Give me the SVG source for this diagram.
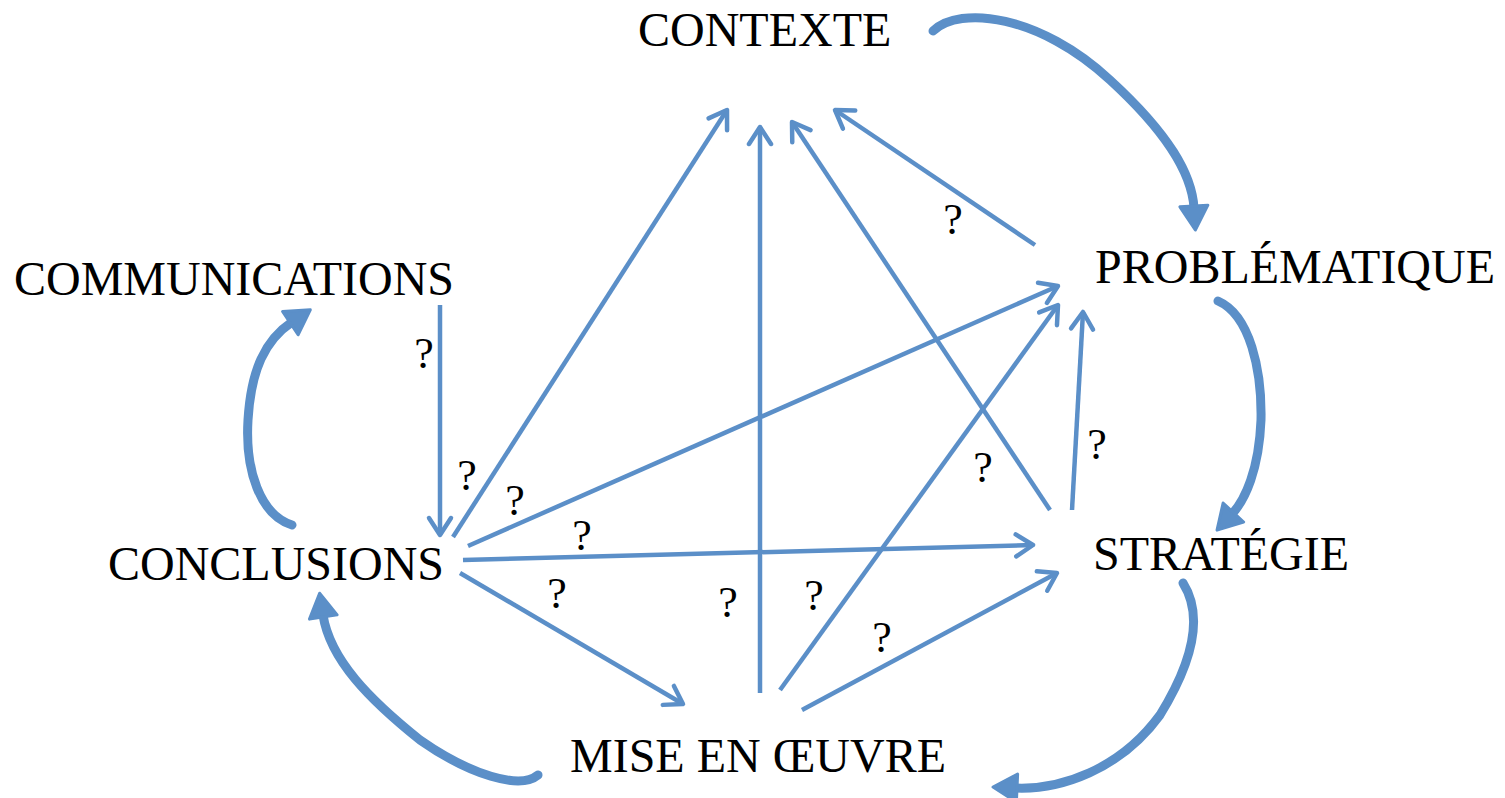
<svg xmlns="http://www.w3.org/2000/svg" width="1505" height="798" viewBox="0 0 1505 798">
<style>
.lbl{font-family:"Liberation Serif","Times New Roman",serif;font-size:48px;fill:#000}
.q{font-family:"Liberation Serif","Times New Roman",serif;font-size:44px;fill:#000;text-anchor:middle}
.thin{fill:none;stroke:#5b8fc8;stroke-width:4.5;marker-end:url(#open)}
.thick{fill:none;stroke:#5b8fc8;stroke-width:9;stroke-linecap:round;marker-end:url(#tri)}
</style>
<defs>
<marker id="open" markerUnits="userSpaceOnUse" orient="auto" refX="0" refY="0" markerWidth="40" markerHeight="40" viewBox="-20 -20 40 40" overflow="visible">
<path d="M-17,-11 L0,0 L-17,11" fill="none" stroke="#5b8fc8" stroke-width="4.5" stroke-linecap="round" stroke-linejoin="round"/>
</marker>
<marker id="tri" markerUnits="userSpaceOnUse" orient="auto" refX="0" refY="0" markerWidth="60" markerHeight="60" viewBox="-30 -30 60 60" overflow="visible">
<path d="M-2,-14 L22,0 L-2,14 Z" fill="#5b8fc8" stroke="#5b8fc8" stroke-width="3" stroke-linejoin="round"/>
</marker>
</defs>
<rect width="1505" height="798" fill="#fff"/>
<g id="connectors">
<path class="thin" d="M440,305 L440,535"/>
<path class="thin" d="M453,537 L727,110"/>
<path class="thin" d="M760,693 L760,127"/>
<path class="thin" d="M1050,510 L792,122"/>
<path class="thin" d="M1035,245 L835,110"/>
<path class="thin" d="M468,546 L1058,286"/>
<path class="thin" d="M463,560 L1033,545"/>
<path class="thin" d="M460,573 L683,704"/>
<path class="thin" d="M780,690 L1058,305"/>
<path class="thin" d="M802,710 L1057,573"/>
<path class="thin" d="M1072,510 L1083,312"/>
<path class="thick" d="M933,31 C960,5 1040,15 1110,80 C1170,135 1192,175 1194,208"/>
<path class="thick" d="M1218,301 C1250,315 1262,370 1261,420 C1259,470 1245,500 1232,514"/>
<path class="thick" d="M1183,583 C1200,610 1200,650 1160,715 C1120,770 1060,790 1015,788"/>
<path class="thick" d="M538,775 C520,790 470,775 420,740 C370,700 330,660 323,615"/>
<path class="thick" d="M292,525 C260,515 245,470 248,420 C251,370 265,340 292,322"/>
</g>
<g id="qmarks">
<text class="q" x="424" y="368">?</text>
<text class="q" x="467" y="490">?</text>
<text class="q" x="515" y="515">?</text>
<text class="q" x="582" y="550">?</text>
<text class="q" x="557" y="608">?</text>
<text class="q" x="728" y="617">?</text>
<text class="q" x="814" y="610">?</text>
<text class="q" x="882" y="652">?</text>
<text class="q" x="983" y="482">?</text>
<text class="q" x="1097" y="459">?</text>
<text class="q" x="953" y="234">?</text>
</g>
<g id="contexte"><text class="lbl" x="638" y="46">CONTEXTE</text></g>
<g id="problematique"><text class="lbl" x="1095" y="283">PROBLÉMATIQUE</text></g>
<g id="communications"><text class="lbl" x="14" y="295">COMMUNICATIONS</text></g>
<g id="conclusions"><text class="lbl" x="108" y="580">CONCLUSIONS</text></g>
<g id="strategie"><text class="lbl" x="1093" y="570">STRATÉGIE</text></g>
<g id="miseenoeuvre"><text class="lbl" x="570" y="772">MISE EN ŒUVRE</text></g>
</svg>
